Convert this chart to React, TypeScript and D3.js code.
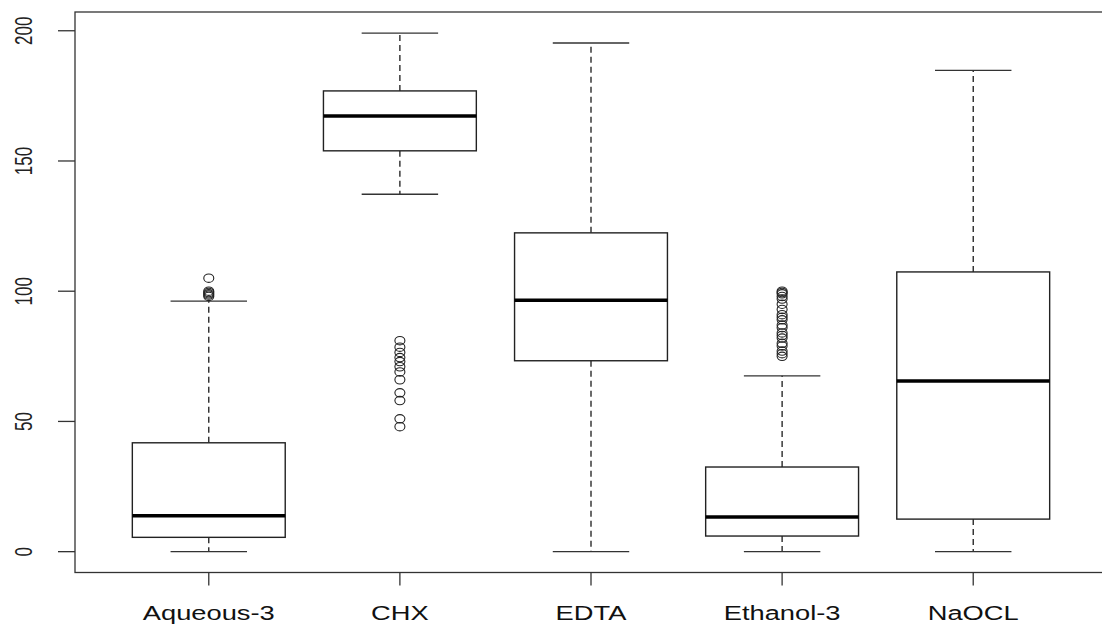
import React from 'react'
import * as d3 from 'd3'

// groups and five-number summaries
const groups = ['Aqueous-3', 'CHX', 'EDTA', 'Ethanol-3', 'NaOCL']
const lowWhisker = [0, 137.2, 0, 0, 0]
const q1 = [5.5, 153.9, 73.3, 6, 12.5]
const medians = [13.8, 167.3, 96.5, 13.3, 65.5]
const q3 = [41.8, 176.9, 122.4, 32.5, 107.4]
const highWhisker = [96.2, 199.1, 195.3, 67.5, 184.8]
const outliers = [
    [98, 98.5, 99, 99.5, 100, 105],
    [81, 78.5, 76.5, 74.5, 73, 71, 69, 66, 61, 58, 51, 48],
    [],
    [100, 99.5, 99, 98, 97, 95, 93, 91, 90, 89, 87, 86, 84, 83, 82, 80, 79, 77, 76, 75],
    [],
]
const yTicks = [0, 50, 100, 150, 200]

const W = 1102
const H = 628

export default function App() {
    // R-style extended ranges: x in [0.3, 5.7], y in [-8, 207]
    const x = d3.scaleLinear().domain([0.3, 5.7]).range([75, 1107])
    const y = d3.scaleLinear().domain([-8, 207.2]).range([572.5, 12])
    const halfBox = (x(1.4) - x(1)) // 0.4 units
    const halfCap = (x(1.2) - x(1))
    const stroke = '#1a1a1a'
    const xSx = 1.3
    const ySx = 1.45

    return (
        <svg width={W} height={H} style={{ position: 'fixed', left: 0, top: 0, background: '#fff' }}
            fontFamily="'Liberation Sans', Arial, sans-serif">
            <rect x={0} y={0} width={W} height={H} fill="#fff" />

            {/* plot frame */}
            <rect x={x(0.3)} y={y(207.2)} width={x(5.7) - x(0.3)} height={y(-8) - y(207.2)}
                fill="none" stroke="#333" strokeWidth={1.3} />

            {/* y axis */}
            {yTicks.map(t => (
                <g key={t}>
                    <line x1={x(0.3) - 17} x2={x(0.3)} y1={y(t)} y2={y(t)} stroke="#333" strokeWidth={1.3} />
                    <text transform={`translate(32,${y(t)}) scale(${ySx},1) rotate(-90)`}
                        textAnchor="middle" fontSize={17} fill="#222">{t}</text>
                </g>
            ))}

            {/* x axis */}
            {groups.map((gName, i) => (
                <g key={gName}>
                    <line x1={x(i + 1)} x2={x(i + 1)} y1={y(-8)} y2={y(-8) + 13} stroke="#333" strokeWidth={1.3} />
                    <text transform={`translate(${x(i + 1)},620) scale(${xSx},1)`}
                        textAnchor="middle" fontSize={21} fill="#111">{gName}</text>
                </g>
            ))}

            {/* boxes */}
            {groups.map((gName, i) => {
                const cx = x(i + 1)
                return (
                    <g key={'b' + gName}>
                        <line x1={cx} x2={cx} y1={y(q3[i])} y2={y(highWhisker[i])}
                            stroke={stroke} strokeWidth={1.3} strokeDasharray="6,4" />
                        <line x1={cx} x2={cx} y1={y(q1[i])} y2={y(lowWhisker[i])}
                            stroke={stroke} strokeWidth={1.3} strokeDasharray="6,4" />
                        <line x1={cx - halfCap} x2={cx + halfCap} y1={y(highWhisker[i])} y2={y(highWhisker[i])}
                            stroke="#333" strokeWidth={1.4} />
                        <line x1={cx - halfCap} x2={cx + halfCap} y1={y(lowWhisker[i])} y2={y(lowWhisker[i])}
                            stroke="#333" strokeWidth={1.4} />
                        <rect x={cx - halfBox} y={y(q3[i])} width={2 * halfBox} height={y(q1[i]) - y(q3[i])}
                            fill="#fff" stroke="#222" strokeWidth={1.4} />
                        <line x1={cx - halfBox} x2={cx + halfBox} y1={y(medians[i])} y2={y(medians[i])}
                            stroke="#000" strokeWidth={3.5} />
                        {outliers[i].map((v, j) => (
                            <ellipse key={j} cx={cx} cy={y(v)} rx={5} ry={4.2}
                                fill="none" stroke="#222" strokeWidth={1.1} />
                        ))}
                    </g>
                )
            })}
        </svg>
    )
}
